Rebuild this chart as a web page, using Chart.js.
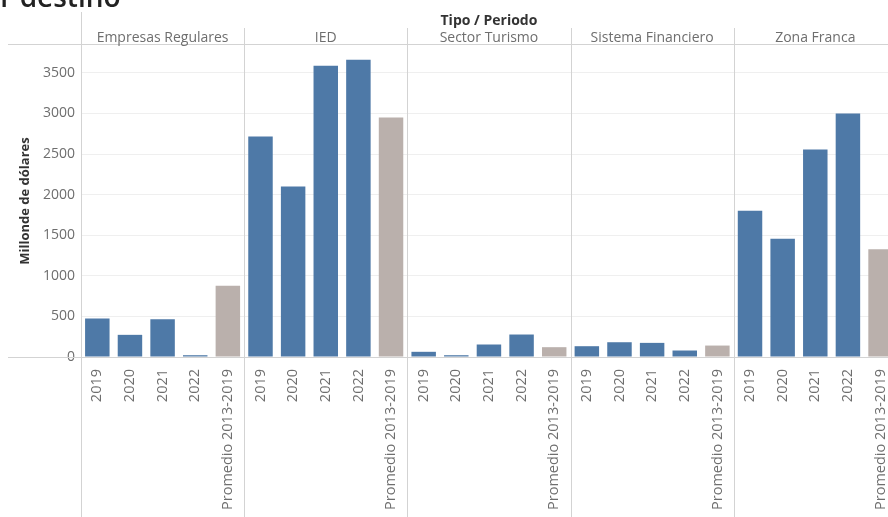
<!DOCTYPE html>
<html>

<head>
    <title>Por destino</title>
    <script src="https://cdn.jsdelivr.net/npm/chart.js"></script>
    <style>
        html, body {
            margin: 0;
            padding: 0;
            overflow: hidden;
            background: #fff;
        }
        #wrap {
            position: absolute;
            left: 0;
            top: 0;
            width: 902px;
            height: 517px;
        }
    </style>
</head>

<body>
    <div id="wrap"><canvas id="destChart"></canvas></div>

    <script>
        // ------------- Data -------------
        const groups = ['Empresas Regulares', 'IED', 'Sector Turismo', 'Sistema Financiero', 'Zona Franca'];
        const periods = ['2019', '2020', '2021', '2022', 'Promedio 2013-2019'];

        const empresasRegulares = [473, 273, 465, 22, 879];
        const ied = [2716, 2101, 3589, 3663, 2950];
        const sectorTurismo = [64, 22, 154, 277, 121];
        const sistemaFinanciero = [133, 182, 174, 80, 141];
        const zonaFranca = [1802, 1458, 2556, 2999, 1326];

        const yTicks = [0, 500, 1000, 1500, 2000, 2500, 3000, 3500];

        const blue = '#4e79a7';
        const grey = '#bab0ac';
        const font = "'Open Sans', sans-serif";

        const seriesByGroup = [empresasRegulares, ied, sectorTurismo, sistemaFinanciero, zonaFranca];

        // one category per (group, period)
        const labels = [];
        const values = [];
        const colors = [];
        groups.forEach((g, gi) => {
            periods.forEach((p, pi) => {
                labels.push(p);
                values.push(seriesByGroup[gi][pi]);
                colors.push(p.startsWith('Promedio') ? grey : blue);
            });
        });

        // ------------- Panels / headers (Tableau style) -------------
        const panelPlugin = {
            id: 'panels',
            afterDraw(chart) {
                const { ctx, chartArea, scales: { x } } = chart;
                const step = x.getPixelForValue(1) - x.getPixelForValue(0);
                const lineCol = '#d3d3d3';

                ctx.save();
                ctx.lineWidth = 1;
                ctx.strokeStyle = lineCol;

                // header line + baseline
                ctx.beginPath();
                ctx.moveTo(8, 44.5);
                ctx.lineTo(chart.width, 44.5);
                ctx.moveTo(8, Math.round(chartArea.bottom) + 0.5);
                ctx.lineTo(chart.width, Math.round(chartArea.bottom) + 0.5);
                ctx.stroke();

                // y axis line
                ctx.beginPath();
                ctx.moveTo(Math.round(chartArea.left) + 0.5, 12);
                ctx.lineTo(Math.round(chartArea.left) + 0.5, chart.height);
                ctx.stroke();

                groups.forEach((g, gi) => {
                    const left = x.getPixelForValue(gi * periods.length) - step / 2;
                    const right = left + step * periods.length;
                    if (gi > 0) {
                        ctx.beginPath();
                        ctx.moveTo(Math.round(left) + 0.5, 28);
                        ctx.lineTo(Math.round(left) + 0.5, chart.height);
                        ctx.stroke();
                    }
                    ctx.fillStyle = '#6e6e6e';
                    ctx.font = '14px ' + font;
                    ctx.textAlign = 'center';
                    ctx.textBaseline = 'alphabetic';
                    ctx.fillText(g, (left + right) / 2, 42);
                });

                // "Tipo / Periodo"
                ctx.fillStyle = '#333';
                ctx.font = 'bold 14px ' + font;
                ctx.textAlign = 'center';
                ctx.fillText('Tipo / Periodo', (chartArea.left + chartArea.right) / 2, 25);

                // cut-off page title
                ctx.fillStyle = '#222';
                ctx.font = '600 28px ' + font;
                ctx.textAlign = 'left';
                ctx.fillText('Por destino', -34, 7);
                ctx.restore();
            }
        };

        const ctx = document.getElementById('destChart').getContext('2d');
        const destChart = new Chart(ctx, {
            type: 'bar',
            data: {
                labels: labels,
                datasets: [{
                    label: 'Millonde de dólares',
                    data: values,
                    backgroundColor: colors,
                    categoryPercentage: 1.0,
                    barPercentage: 0.75
                }]
            },
            options: {
                responsive: true,
                maintainAspectRatio: false,
                animation: false,
                layout: {
                    padding: { top: 45, left: 0, right: 2, bottom: 0 }
                },
                plugins: {
                    legend: { display: false },
                    tooltip: { enabled: false }
                },
                scales: {
                    x: {
                        grid: { display: false },
                        border: { display: false },
                        ticks: {
                            autoSkip: false,
                            maxRotation: 90,
                            minRotation: 90,
                            padding: 4,
                            color: '#6e6e6e',
                            font: { family: font, size: 14.5 }
                        },
                        afterFit(scale) { scale.height = 160; }
                    },
                    y: {
                        min: 0,
                        max: 3844,
                        grid: { color: '#efefef', drawTicks: false },
                        border: { display: false },
                        ticks: {
                            stepSize: 500,
                            padding: 6,
                            color: '#6e6e6e',
                            font: { family: font, size: 14 },
                            callback: v => String(v)
                        },
                        afterBuildTicks(scale) {
                            scale.ticks = yTicks.map(v => ({ value: v }));
                        },
                        title: {
                            display: true,
                            text: 'Millonde de dólares',
                            color: '#333',
                            font: { family: font, size: 13, weight: 'bold' },
                            padding: { top: 17, bottom: 0 }
                        },
                        afterFit(scale) { scale.width = 81; }
                    }
                }
            },
            plugins: [panelPlugin]
        });
    </script>
</body>

</html>
